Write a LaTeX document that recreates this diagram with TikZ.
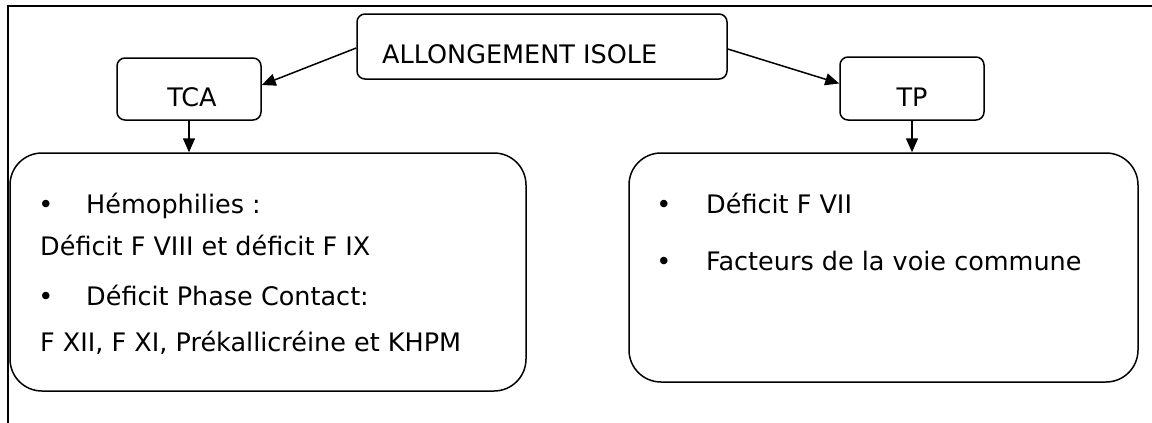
\documentclass[tikz,border=0pt]{standalone}
\usepackage{fontspec}
\setmainfont{DejaVu Sans}
\usetikzlibrary{arrows.meta}
\begin{document}
\begin{tikzpicture}[x=1pt,y=-1pt,
  smallbox/.style={draw,line width=1.5pt,rounded corners=8pt,inner sep=0pt},
  bigbox/.style={draw,line width=1.5pt,rounded corners=32pt,inner sep=0pt},
  txt/.style={inner sep=0pt,font=\fontsize{25.5}{30}\selectfont},
  conn/.style={line width=1.5pt,-{Triangle[length=14pt,width=12pt]}},
  frameline/.style={line width=2pt}]
\useasboundingbox (0,0) rectangle (1152,423);
% frame
\coordinate (ftr) at (1152,6);
\coordinate (ftl) at (8,6);
\coordinate (fbl) at (8,423);
\draw[frameline] (fbl) -- (ftl) -- (ftr);
% top boxes
\node[smallbox,minimum width=370pt,minimum height=65pt] (allong) at (542,46.5) {};
\node[txt,anchor=base west] (allongt) at (382,63) {ALLONGEMENT ISOLE};
\node[smallbox,minimum width=144pt,minimum height=62pt] (tca) at (189,89) {};
\node[txt,anchor=base] (tcat) at (192,106) {TCA};
\node[smallbox,minimum width=144pt,minimum height=63pt] (tp) at (912,88.5) {};
\node[txt,anchor=base] (tpt) at (912,106) {TP};
% big boxes
\node[bigbox,minimum width=516pt,minimum height=238pt] (left) at (268,272) {};
\node[bigbox,minimum width=509pt,minimum height=229pt] (right) at (883.5,267.5) {};
% left text
\node[txt,anchor=base] (b1) at (46,213) {•};
\node[txt,anchor=base west] (l1) at (86,213) {Hémophilies :};
\node[txt,anchor=base west] (l2) at (40,255) {Déficit F VIII et déficit F IX};
\node[txt,anchor=base] (b2) at (46,305) {•};
\node[txt,anchor=base west] (l3) at (86,305) {Déficit Phase Contact:};
\node[txt,anchor=base west] (l4) at (40,351) {F XII, F XI, Prékallicréine et KHPM};
% right text
\node[txt,anchor=base] (b3) at (664,213) {•};
\node[txt,anchor=base west] (r1) at (706,213) {Déficit F VII};
\node[txt,anchor=base] (b4) at (664,270) {•};
\node[txt,anchor=base west] (r2) at (706,270) {Facteurs de la voie commune};
% connectors
\draw[conn] ([yshift=-1.5pt]allong.west) -- ([yshift=4pt]tca.east);
\draw[conn] ([yshift=-2.5pt]allong.east) -- ([yshift=5pt]tp.west);
\draw[conn] (tca.south) -- (tca.south |- left.north);
\draw[conn] (tp.south) -- (tp.south |- right.north);
\end{tikzpicture}
\end{document}
